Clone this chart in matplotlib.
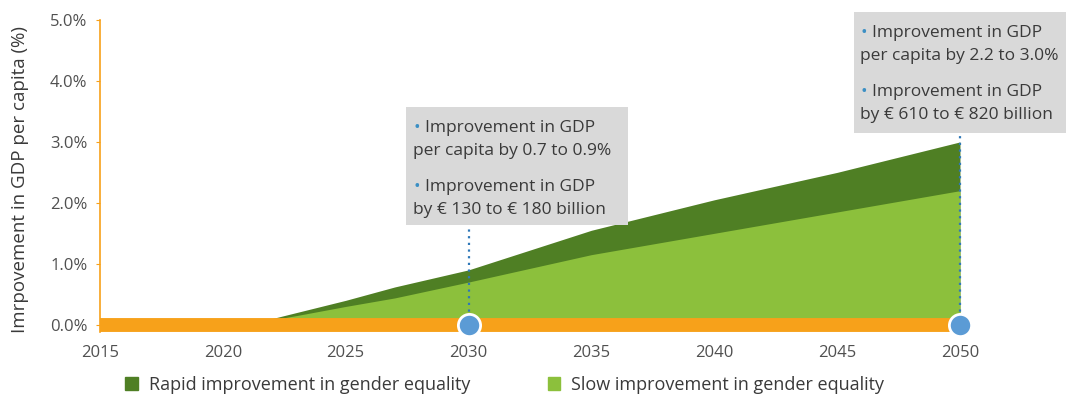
"""GDP per capita gains from gender equality, 2015-2050."""

import matplotlib.pyplot as plt
from matplotlib.patches import Patch, Rectangle

plt.rcParams["font.family"] = ["Open Sans", "DejaVu Sans"]

years = [2015, 2022, 2023, 2025, 2027, 2030, 2035, 2040, 2045, 2050]
rapid = [0.0, 0.1, 0.2, 0.4, 0.62, 0.9, 1.55, 2.05, 2.5, 3.0]
slow = [0.0, 0.08, 0.15, 0.3, 0.44, 0.7, 1.15, 1.5, 1.85, 2.2]

y_ticks = [0, 1, 2, 3, 4, 5]
x_ticks = [2015, 2020, 2025, 2030, 2035, 2040, 2045, 2050]

milestones = [2030, 2050]
milestone_notes = [
    [("Improvement in GDP", "per capita by 0.7 to 0.9%"),
     ("Improvement in GDP", "by \u20ac 130 to \u20ac 180 billion")],
    [("Improvement in GDP", "per capita by 2.2 to 3.0%"),
     ("Improvement in GDP", "by \u20ac 610 to \u20ac 820 billion")],
]

DARK_GREEN = "#4f7f24"
LIGHT_GREEN = "#8cc03c"
ORANGE = "#f7a11a"
BLUE = "#5b9bd5"
BOX_GREY = "#d9d9d9"
TEXT = "#3a3a3a"
NOTE_SIZE = 12.5

fig = plt.figure(figsize=(10.69, 4.01), dpi=100)
ax = fig.add_axes([0.0935, 0.172, 0.8045, 0.778])

ax.fill_between(years, 0, rapid, color=DARK_GREEN, lw=0, zorder=1)
ax.fill_between(years, 0, slow, color=LIGHT_GREEN, lw=0, zorder=2)
ax.plot([years[0], years[-1]], [0, 0], color=ORANGE, lw=10,
        solid_capstyle="butt", zorder=3)

ax.set_xlim(2015, 2050)
ax.set_ylim(-0.12, 5.0)
ax.set_yticks(y_ticks)
ax.set_yticklabels([f"{v:.1f}%" for v in y_ticks])
ax.set_xticks(x_ticks)
ax.tick_params(axis="y", length=3, color=ORANGE, labelsize=12,
               labelcolor="#505050", pad=6)
ax.tick_params(axis="x", length=0, labelsize=12, labelcolor="#505050", pad=9)
for side in ("top", "right", "bottom"):
    ax.spines[side].set_visible(False)
ax.spines["left"].set_color(ORANGE)
ax.spines["left"].set_linewidth(1.2)
ax.set_ylabel("Imrpovement in GDP per capita (%)", fontsize=13.5, color=TEXT)
ax.yaxis.set_label_coords(-0.082, 0.49)

# note boxes: (left, bottom, width, height) in data units, plus the
# baseline of the first line of text
boxes = [
    (2027.45, 1.64, 9.05, 1.93, 2027.75, 3.16),
    (2045.7, 3.14, 8.6, 2.0, 2045.95, 4.72),
]
line_step = 0.38
block_step = 0.96
for year, (x0, y0, w, h, tx, ty), notes in zip(milestones, boxes,
                                               milestone_notes):
    ax.add_patch(Rectangle((x0, y0), w, h, facecolor=BOX_GREY, lw=0,
                           clip_on=False, zorder=4))
    for i, (head, tail) in enumerate(notes):
        yb = ty - i * block_step
        ax.text(tx, yb, "\u2022", color="#3b8fc4", fontsize=NOTE_SIZE,
                va="baseline", ha="left", zorder=5)
        ax.annotate(head, xy=(tx, yb), xytext=(8.5, 0),
                    textcoords="offset points", color=TEXT,
                    fontsize=NOTE_SIZE, va="baseline", ha="left", zorder=5)
        ax.text(tx, yb - line_step, tail, color=TEXT, fontsize=NOTE_SIZE,
                va="baseline", ha="left", zorder=5)
    ax.plot([year, year], [0, y0], color="#2f78b8", lw=1.6, ls=(0, (1, 2)),
            zorder=5, clip_on=False)
    ax.plot(year, 0, "o", ms=16, color=BLUE, mec="white", mew=2,
            zorder=6, clip_on=False)

handles = [Patch(color=DARK_GREEN, label="Rapid improvement in gender equality"),
           Patch(color=LIGHT_GREEN, label="Slow improvement in gender equality")]
fig.legend(handles=handles, loc="center", bbox_to_anchor=(0.472, 0.04),
           ncol=2, frameon=False, fontsize=13, handlelength=0.7,
           handleheight=0.7, handletextpad=0.6, columnspacing=4.3,
           labelcolor=TEXT)

fig.savefig("out.png", dpi=100)
